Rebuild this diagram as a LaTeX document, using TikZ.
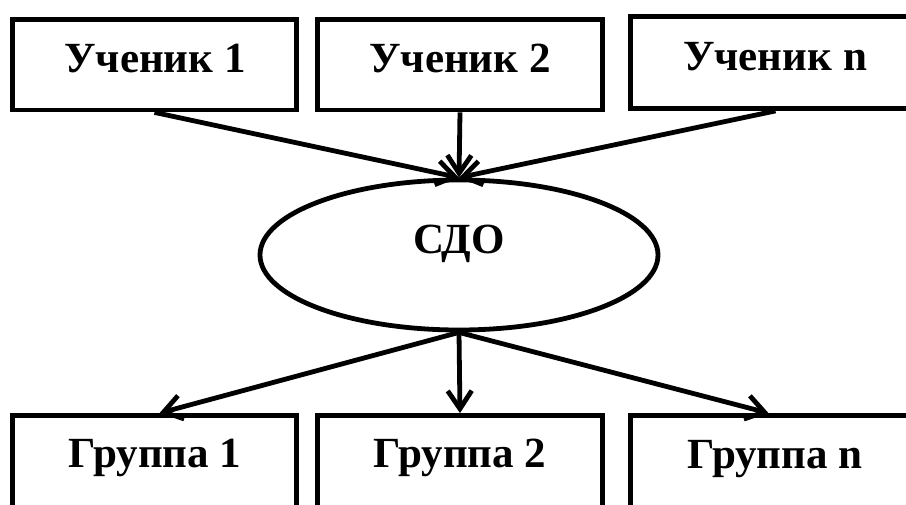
\documentclass[tikz,border=0pt]{standalone}
\usepackage{fontspec}
\setmainfont{Liberation Serif}
\usetikzlibrary{arrows.meta,shapes.geometric}
\begin{document}
\begin{tikzpicture}[x=1pt,y=-1pt,
  box/.style={draw, line width=4.8pt, rectangle, inner sep=0pt, minimum width=284.5pt, minimum height=90.5pt},
  lbl/.style={anchor=base, inner sep=0pt, font=\fontsize{43}{50}\selectfont\bfseries},
  conn/.style={line width=4.8pt, -{Straight Barb[length=18pt,width=24pt]}}
]
\useasboundingbox (0,0) rectangle (906,504);
\clip (0,0) rectangle (906,504);
% top boxes
\node[box] (u1) at (154.5,64.75) {};
\node[box] (u2) at (460,64.75) {};
\node[box, minimum width=290pt, minimum height=92pt] (un) at (775.5,62.5) {};
\node[lbl] (tu1) at (155,72) {Ученик 1};
\node[lbl] (tu2) at (460,72) {Ученик 2};
\node[lbl] (tun) at (775,70) {Ученик n};
% ellipse
\node[draw, ellipse, line width=4.8pt, inner sep=0pt, minimum width=398pt, minimum height=150pt] (s) at (459,255) {};
\node[lbl] (ts) at (459,253) {СДО};
% bottom boxes
\node[box, minimum height=110pt] (g1) at (154.5,470.5) {};
\node[box, minimum height=110pt] (g2) at (460,470.5) {};
\node[box, minimum width=290pt, minimum height=110pt] (gn) at (775.5,470.5) {};
\node[lbl] (tg1) at (155,467) {Группа 1};
\node[lbl] (tg2) at (460,467) {Группа 2};
\node[lbl] (tgn) at (775,468) {Группа n};
% connectors
\draw[conn] (u1.south) -- (s.north);
\draw[conn] (u2.south) -- (s.north);
\draw[conn] (un.south) -- (s.north);
\draw[conn] (s.south) -- ([xshift=5pt]g1.north);
\draw[conn] (s.south) -- (g2.north);
\draw[conn] (s.south) -- ([xshift=-7pt]gn.north);
\end{tikzpicture}
\end{document}
